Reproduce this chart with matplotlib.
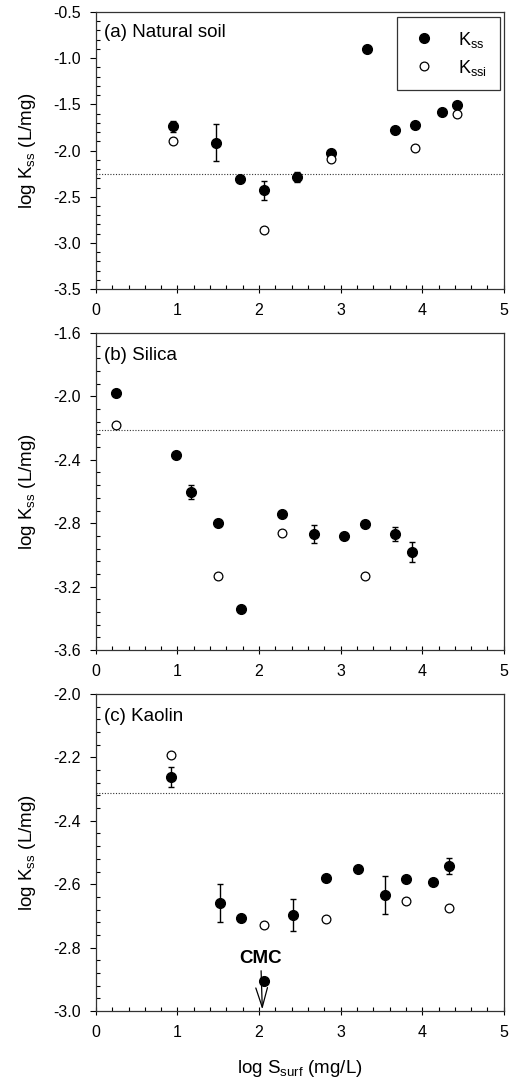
import matplotlib.pyplot as plt
import numpy as np
from matplotlib.ticker import MultipleLocator

plt.rcParams['font.family'] = ['Liberation Sans', 'DejaVu Sans']
plt.rcParams['mathtext.fontset'] = 'custom'
plt.rcParams['mathtext.rm'] = 'Liberation Sans'

# (a) Natural soil
a_x = [0.946, 1.468, 1.766, 2.06, 2.459, 2.888, 3.328, 3.67, 3.915, 4.24, 4.425]
a_k = [-1.735, -1.915, -2.308, -2.43, -2.283, -2.03, -0.896, -1.775, -1.728, -1.588, -1.512]
a_err = [0.06, 0.2, 0.0, 0.1, 0.055, 0.0, 0.0, 0.0, 0.0, 0.0, 0.0]
a_xi = [0.946, 2.06, 2.888, 3.915, 4.425]
a_ki = [-1.9, -2.863, -2.092, -1.97, -1.602]
a_line = -2.257

# (b) Silica
b_x = [0.249, 0.983, 1.162, 1.497, 1.774, 2.276, 2.675, 3.042, 3.303, 3.667, 3.874]
b_k = [-1.979, -2.368, -2.602, -2.798, -3.341, -2.739, -2.867, -2.878, -2.808, -2.867, -2.981]
b_err = [0.0, 0.0, 0.043, 0.0, 0.0, 0.0, 0.055, 0.0, 0.0, 0.043, 0.063]
b_xi = [0.249, 1.497, 2.276, 3.303]
b_ki = [-2.183, -3.13, -2.861, -3.135]
b_line = -2.211

# (c) Kaolin
c_x = [0.919, 1.524, 1.776, 2.061, 2.41, 2.817, 3.215, 3.549, 3.8, 4.13, 4.33]
c_k = [-2.262, -2.66, -2.706, -2.904, -2.698, -2.579, -2.552, -2.634, -2.585, -2.593, -2.543]
c_err = [0.031, 0.059, 0.0, 0.0, 0.05, 0.0, 0.0, 0.06, 0.0, 0.0, 0.025]
c_xi = [0.919, 2.061, 2.817, 3.8, 4.33]
c_ki = [-2.194, -2.729, -2.709, -2.652, -2.676]
c_line = -2.311

cmc_x = 2.04

panels = [
    ('(a) Natural soil', a_x, a_k, a_err, a_xi, a_ki, a_line, (-3.5, -0.5), 0.5, 0.1),
    ('(b) Silica', b_x, b_k, b_err, b_xi, b_ki, b_line, (-3.6, -1.6), 0.4, 0.08),
    ('(c) Kaolin', c_x, c_k, c_err, c_xi, c_ki, c_line, (-3.0, -2.0), 0.2, 0.04),
]
boxes = [
    [0.187, 0.733, 0.795, 0.256],
    [0.187, 0.3998, 0.795, 0.2927],
    [0.187, 0.0665, 0.795, 0.2927],
]

fig = plt.figure(figsize=(5.13, 10.83), dpi=100)
axes = []
for (title, x, k, err, xi, ki, line, ylim, maj, mnr), box in zip(panels, boxes):
    ax = fig.add_axes(box)
    axes.append(ax)
    ax.axhline(line, color='#333333', lw=0.8, ls=(0, (1, 1.5)), zorder=1)
    x = np.array(x); k = np.array(k); err = np.array(err)
    m = err > 0
    ax.errorbar(x[m], k[m], yerr=err[m], fmt='none', ecolor='black', elinewidth=1,
                capsize=2.5, capthick=1, zorder=2)
    ax.plot(x, k, 'o', color='black', ms=7, label=r'$\mathregular{K_{ss}}$', zorder=3)
    ax.plot(xi, ki, 'o', mfc='white', mec='black', mew=0.9, ms=6.3,
            label=r'$\mathregular{K_{ssi}}$', zorder=3)
    ax.set_xlim(0, 5)
    ax.set_ylim(*ylim)
    ax.xaxis.set_major_locator(MultipleLocator(1))
    ax.xaxis.set_minor_locator(MultipleLocator(0.2))
    ax.yaxis.set_major_locator(MultipleLocator(maj))
    ax.yaxis.set_minor_locator(MultipleLocator(mnr))
    ax.yaxis.set_major_formatter(plt.FormatStrFormatter('%.1f'))
    ax.tick_params(which='major', direction='out', length=4, width=0.8, labelsize=11.5, pad=7)
    ax.tick_params(axis='x', which='major', direction='inout', length=6, pad=7)
    ax.tick_params(which='minor', direction='in', length=3, width=0.8)
    for s in ax.spines.values():
        s.set_linewidth(0.9)
        s.set_color('#333333')
    ax.text(0.02, 0.955, title, transform=ax.transAxes, fontsize=13.5, va='top', ha='left')
    ax.set_ylabel(r'log K$_{\mathregular{ss}}$ (L/mg)', fontsize=13.5, labelpad=11)

axes[0].legend(loc='upper right', bbox_to_anchor=(0.99, 0.982), frameon=True, fancybox=False,
               edgecolor='black', fontsize=13, borderpad=0.7, labelspacing=0.45,
               handletextpad=1.1, handlelength=1.6, borderaxespad=0)
axes[0].get_legend().get_frame().set_linewidth(0.9)

axes[2].set_xlabel(r'log S$_{\mathregular{surf}}$ (mg/L)', fontsize=13.5, labelpad=13)
axes[2].annotate('CMC', xy=(cmc_x, -2.995), xytext=(cmc_x - 0.02, -2.86), ha='center', va='bottom',
                 fontsize=13.5, fontweight='bold',
                 arrowprops=dict(arrowstyle='->,head_length=1.0,head_width=0.3', color='black',
                                 lw=0.9, shrinkA=1, shrinkB=0, mutation_scale=14))

fig.savefig('out.png', dpi=100)
